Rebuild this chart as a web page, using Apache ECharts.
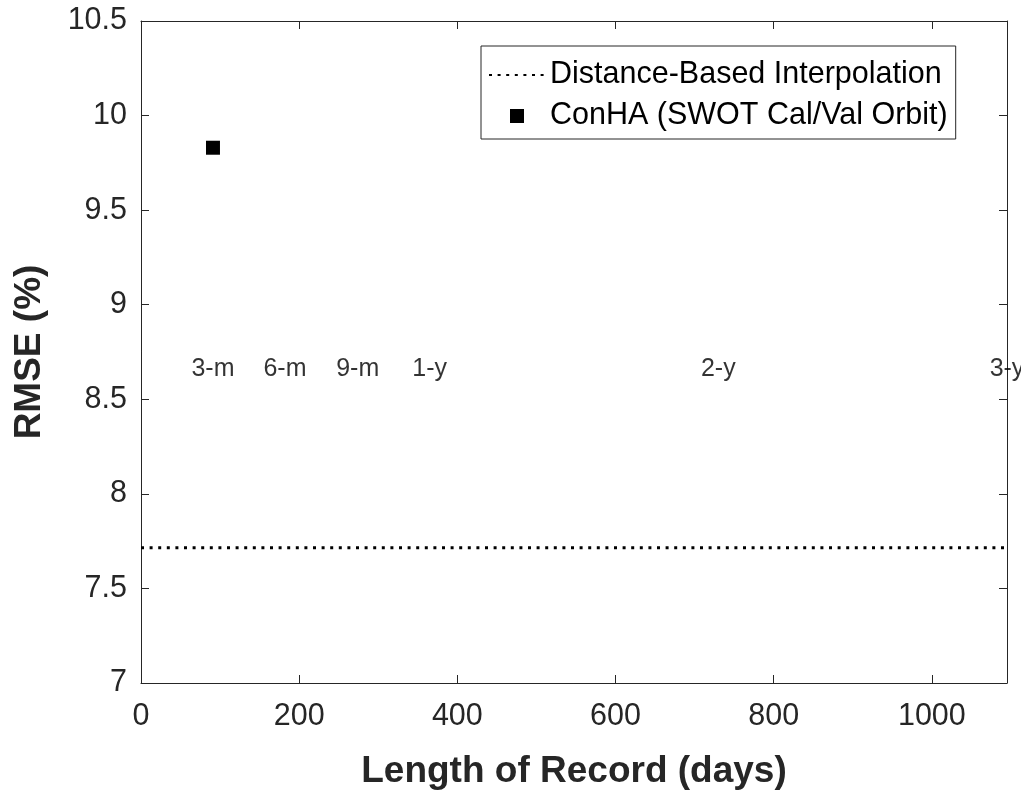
<!DOCTYPE html>
<html>
<head>
<meta charset="utf-8">
<title>RMSE vs Length of Record</title>
<script src="https://cdn.jsdelivr.net/npm/echarts@6/dist/echarts.min.js"></script>
<style>
  html, body { margin: 0; padding: 0; background: #ffffff; }
  #chart { width: 1021px; height: 795px; }
</style>
</head>
<body>
<div id="chart"></div>
<script>
// Record-length markers written across the plot
const recordLabels = ['3-m', '6-m', '9-m', '1-y', '2-y', '3-y'];
const recordDays = [91, 182, 274, 365, 730, 1095];
const recordLabelLevel = 8.66;

// ConHA result on the SWOT Cal/Val orbit
const conhaDays = [91];
const conhaRmse = [9.83];

// Distance-based interpolation baseline (constant RMSE)
const distanceRmse = 7.715;
// x runs out to three years of record
const xRange = [0, 1095];
const yRange = [7, 10.5];

const FONT = '"Liberation Sans", Arial, Helvetica, sans-serif';
const AXIS_COLOR = '#262626';

const chart = echarts.init(document.getElementById('chart'), null, { renderer: 'canvas' });

function frameAxis(extra) {
  return Object.assign({
    type: 'value',
    axisLine: { show: true, onZero: false, lineStyle: { color: AXIS_COLOR, width: 1 } },
    axisTick: { show: true, inside: true, length: 8, lineStyle: { color: AXIS_COLOR, width: 1 } },
    splitLine: { show: false }
  }, extra);
}

const option = {
  backgroundColor: '#ffffff',
  animation: false,
  textStyle: { fontFamily: FONT },
  grid: { left: 141, right: 14, top: 21, bottom: 107, containLabel: false },
  legend: {
    data: [
      // line-only key: hide the marker the line icon carries
      { name: 'Distance-Based Interpolation', itemStyle: { opacity: 0 } },
      // small square key, kept square inside the wide icon slot
      { name: 'ConHA (SWOT Cal/Val Orbit)', icon: 'path://M0,0h10v10h-10z' }
    ],
    orient: 'vertical',
    left: 481,
    top: 46,
    padding: [12, 8, 6, 7],
    itemGap: 7,
    itemWidth: 56,
    itemHeight: 14,
    symbolKeepAspect: true,
    borderColor: AXIS_COLOR,
    borderWidth: 1,
    backgroundColor: '#ffffff',
    selectedMode: false,
    textStyle: { fontFamily: FONT, fontSize: 30.5, color: '#000000', lineHeight: 34 }
  },
  xAxis: [
    frameAxis({
      position: 'bottom',
      min: xRange[0], max: xRange[1], interval: 200,
      name: 'Length of Record (days)',
      nameLocation: 'middle',
      nameGap: 70,
      nameTextStyle: { fontFamily: FONT, fontSize: 37, fontWeight: 'bold', color: AXIS_COLOR },
      axisLabel: {
        show: true, margin: 18, fontSize: 30.5, color: AXIS_COLOR, fontFamily: FONT,
        showMaxLabel: false,
        formatter: function (v) { return String(v); }
      }
    }),
    frameAxis({
      position: 'top',
      min: xRange[0], max: xRange[1], interval: 200,
      axisLabel: { show: false }
    })
  ],
  yAxis: [
    frameAxis({
      position: 'left',
      min: yRange[0], max: yRange[1], interval: 0.5,
      name: 'RMSE (%)',
      nameLocation: 'middle',
      nameGap: 93,
      nameTextStyle: { fontFamily: FONT, fontSize: 37, fontWeight: 'bold', color: AXIS_COLOR },
      axisLabel: {
        show: true, margin: 14, fontSize: 30.5, color: AXIS_COLOR, fontFamily: FONT,
        formatter: function (v) { return String(v); }
      }
    }),
    frameAxis({
      position: 'right',
      min: yRange[0], max: yRange[1], interval: 0.5,
      axisLabel: { show: false }
    })
  ],
  series: [
    {
      name: 'Distance-Based Interpolation',
      type: 'line',
      xAxisIndex: 0, yAxisIndex: 0,
      symbol: 'none',
      showSymbol: false,
      silent: true,
      data: xRange.map(function (d) { return [d, distanceRmse]; }),
      lineStyle: { color: '#000000', width: 3, type: [3, 5.6] },
      itemStyle: { color: '#000000' }
    },
    {
      name: 'ConHA (SWOT Cal/Val Orbit)',
      type: 'scatter',
      xAxisIndex: 0, yAxisIndex: 0,
      symbol: 'rect',
      symbolSize: 14,
      itemStyle: { color: '#000000', opacity: 1 },
      data: conhaDays.map(function (d, i) { return [d, conhaRmse[i]]; })
    },
    {
      name: 'record-length markers',
      type: 'scatter',
      xAxisIndex: 0, yAxisIndex: 0,
      symbolSize: 0,
      silent: true,
      clip: false,
      itemStyle: { color: 'rgba(0,0,0,0)' },
      label: {
        show: true,
        position: 'inside',
        formatter: function (p) { return p.name; },
        fontFamily: FONT,
        fontSize: 25,
        color: '#000000'
      },
      data: recordLabels.map(function (t, i) {
        return { name: t, value: [recordDays[i], recordLabelLevel] };
      })
    }
  ]
};

chart.setOption(option);
</script>
</body>
</html>
